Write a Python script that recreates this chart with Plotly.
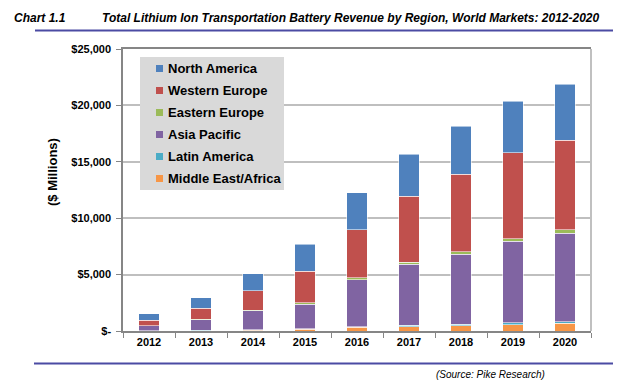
import plotly.graph_objects as go

years = ["2012", "2013", "2014", "2015", "2016", "2017", "2018", "2019", "2020"]
middle_east_africa = [20, 30, 60, 150, 320, 360, 480, 540, 680]
latin_america = [10, 15, 30, 40, 60, 150, 140, 200, 150]
asia_pacific = [420, 970, 1700, 2200, 4150, 5390, 6170, 7200, 7820]
eastern_europe = [30, 40, 50, 100, 210, 200, 230, 240, 330]
western_europe = [470, 960, 1750, 2800, 4250, 5840, 6880, 7620, 7910]
north_america = [600, 950, 1470, 2380, 3250, 3710, 4260, 4590, 4980]

series = [
    ("Middle East/Africa", middle_east_africa, "#F79646"),
    ("Latin America", latin_america, "#4BACC6"),
    ("Asia Pacific", asia_pacific, "#8064A2"),
    ("Eastern Europe", eastern_europe, "#9BBB59"),
    ("Western Europe", western_europe, "#C0504D"),
    ("North America", north_america, "#4F81BD"),
]

y_tickvals = [0, 5000, 10000, 15000, 20000, 25000]
y_ticktext = ["$-", "$5,000", "$10,000", "$15,000", "$20,000", "$25,000"]

W, H = 627, 391
L, R, T, B = 123, 591, 49, 331

FONT = "Liberation Sans, Arial, sans-serif"

fig = go.Figure()
for name, vals, col in series:
    fig.add_trace(go.Bar(
        x=years, y=vals, name=name,
        marker=dict(color=col, line=dict(color="rgba(255,255,255,0.55)", width=1)),
        showlegend=False,
    ))


def px(x):
    return (x - L) / (R - L)


def py(y):
    return (B - y) / (B - T)


shapes = []
annotations = []

# header and footer rules
shapes.append(dict(type="line", xref="paper", yref="paper", x0=px(35), x1=px(613),
                   y0=py(30.5), y1=py(30.5), line=dict(color="#4B4BA3", width=2)))
shapes.append(dict(type="line", xref="paper", yref="paper", x0=px(34), x1=px(613),
                   y0=py(363.5), y1=py(363.5), line=dict(color="#4B4BA3", width=2)))
# right plot border
shapes.append(dict(type="line", xref="paper", yref="paper", x0=1, x1=1, y0=0, y1=1,
                   line=dict(color="#C0C0C0", width=2)))

# legend box
shapes.append(dict(type="rect", xref="paper", yref="paper", x0=px(140), x1=px(284),
                   y0=py(190), y1=py(57), fillcolor="#D9D9D9", line=dict(width=0), layer="above"))
legend_order = list(reversed(series))
for i, (name, vals, col) in enumerate(legend_order):
    cy = 68.5 + i * 22
    shapes.append(dict(type="rect", xref="paper", yref="paper", x0=px(156), x1=px(163),
                       y0=py(cy + 3.5), y1=py(cy - 3.5), fillcolor=col, line=dict(width=0), layer="above"))
    annotations.append(dict(xref="paper", yref="paper", x=px(165.5), y=py(cy), text="<b>%s</b>" % name,
                            showarrow=False, xanchor="left", yanchor="middle",
                            font=dict(family=FONT, size=13, color="#000000")))

# titles
annotations.append(dict(xref="paper", yref="paper", x=px(12), y=py(18), text="<b><i>Chart 1.1</i></b>",
                        showarrow=False, xanchor="left", yanchor="middle",
                        font=dict(family=FONT, size=12, color="#000000")))
annotations.append(dict(xref="paper", yref="paper", x=px(100), y=py(18),
                        text="<b><i>Total Lithium Ion Transportation Battery Revenue by Region, World Markets: 2012-2020</i></b>",
                        showarrow=False, xanchor="left", yanchor="middle",
                        font=dict(family=FONT, size=12, color="#000000")))
annotations.append(dict(xref="paper", yref="paper", x=px(52), y=py(172), text="<b>($ Millions)</b>",
                        showarrow=False, textangle=-90, xanchor="center", yanchor="middle",
                        font=dict(family=FONT, size=13, color="#000000")))
annotations.append(dict(xref="paper", yref="paper", x=px(490), y=py(374), text="<i>(Source: Pike Research)</i>",
                        showarrow=False, xanchor="center", yanchor="middle",
                        font=dict(family=FONT, size=10, color="#000000")))

fig.update_layout(
    width=W, height=H,
    margin=dict(l=L, r=W - R, t=T, b=H - B, pad=0),
    barmode="stack",
    bargap=0.61,
    plot_bgcolor="#FFFFFF",
    paper_bgcolor="#FFFFFF",
    shapes=shapes,
    annotations=annotations,
    font=dict(family=FONT, color="#000000"),
    xaxis=dict(
        type="category",
        showline=True, linecolor="#868686", linewidth=1.5, mirror=True,
        ticks="outside", ticklen=5, tickcolor="#868686", tickson="boundaries",
        tickfont=dict(family=FONT, size=11, color="#000000", weight="bold"),
        showgrid=False,
    ),
    yaxis=dict(
        range=[0, 25000],
        tickvals=y_tickvals, ticktext=y_ticktext,
        showline=True, linecolor="#868686", linewidth=1.5,
        ticks="outside", ticklen=5, tickcolor="#868686",
        ticklabelstandoff=3,
        tickfont=dict(family=FONT, size=11, color="#000000", weight="bold"),
        showgrid=True, gridcolor="#BFBFBF", gridwidth=1.5,
        zeroline=False,
    ),
)

fig.write_html("out.html", config={"displayModeBar": False},
               post_script="document.body.style.margin='0';document.body.style.overflow='hidden';")
